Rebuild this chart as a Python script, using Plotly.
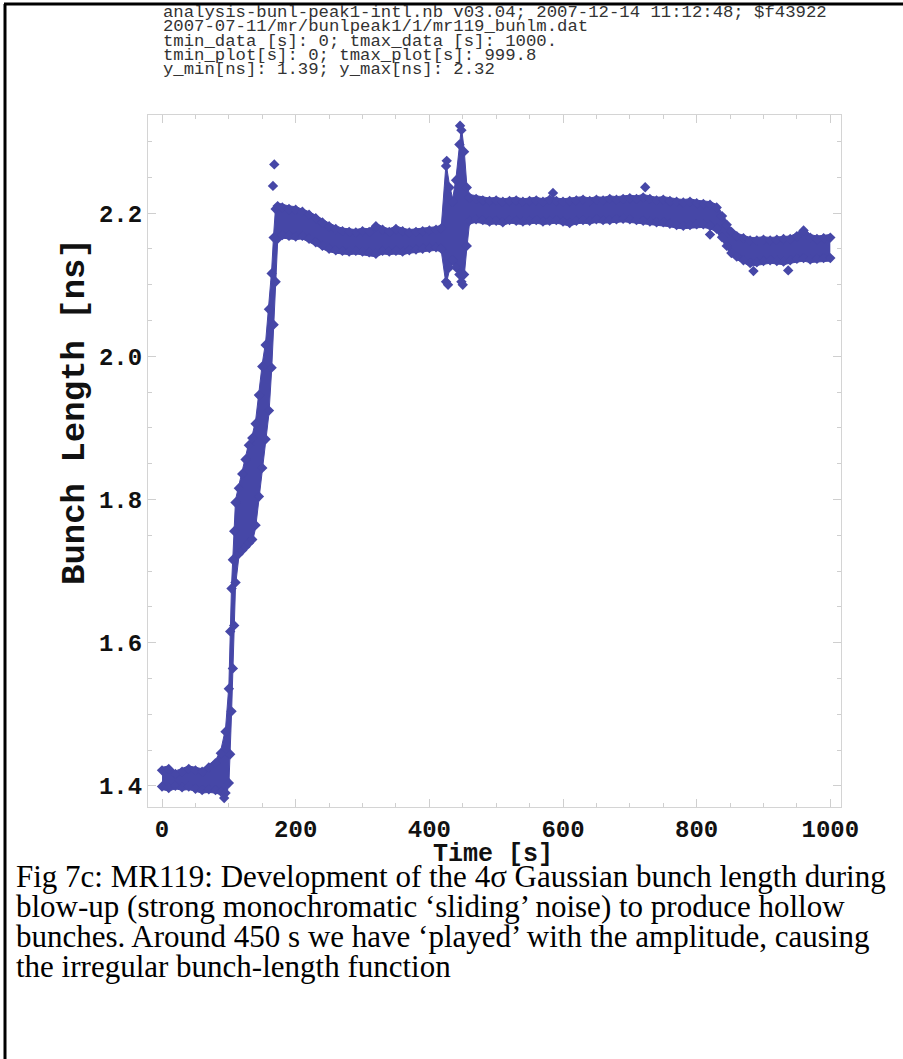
import plotly.graph_objects as go

# ---------------- data ----------------
T = [0, 10, 20, 30, 40, 50, 60, 70, 80, 88, 95, 100, 102, 104, 106, 108, 110, 115, 120, 125,
     130, 135, 140, 145, 150, 155, 160, 164, 167, 170, 173, 180, 190, 200, 210, 220, 230, 240,
     250, 260, 270, 280, 290, 300, 310, 320, 330, 340, 350, 360, 370, 380, 390, 400, 410, 418,
     425, 430, 435, 440, 445, 448, 452, 456, 460, 470, 480, 490, 500, 510, 520, 530, 540, 550,
     560, 570, 580, 590, 600, 610, 620, 630, 640, 650, 660, 670, 680, 690, 700, 710, 720, 730,
     740, 750, 760, 770, 780, 790, 800, 810, 820, 830, 838, 845, 852, 860, 870, 880, 890, 900,
     910, 920, 930, 940, 950, 960, 970, 980, 990, 1000]

LOW = [1.395, 1.393, 1.396, 1.394, 1.395, 1.392, 1.390, 1.391, 1.390, 1.388, 1.386, 1.400, 1.44,
       1.50, 1.56, 1.62, 1.68, 1.72, 1.725, 1.73,
       1.735, 1.74, 1.76, 1.80, 1.84, 1.88, 1.92, 1.98, 2.04, 2.10, 2.160, 2.165, 2.164, 2.163,
       2.164, 2.160, 2.155, 2.150,
       2.146, 2.144, 2.143, 2.142, 2.143, 2.142, 2.141, 2.139, 2.143, 2.142, 2.143, 2.142, 2.144,
       2.145, 2.146, 2.147, 2.148, 2.146,
       2.10, 2.12, 2.13, 2.12, 2.11, 2.10, 2.11, 2.15, 2.185, 2.187, 2.186, 2.184, 2.185, 2.183,
       2.186, 2.185, 2.184, 2.185,
       2.186, 2.184, 2.185, 2.186, 2.184, 2.182, 2.185, 2.186, 2.185, 2.187, 2.186, 2.186, 2.187,
       2.188, 2.187, 2.186, 2.185, 2.184,
       2.183, 2.183, 2.181, 2.179, 2.178, 2.179, 2.180, 2.180, 2.178, 2.174, 2.162, 2.150, 2.140,
       2.135, 2.130, 2.126, 2.127, 2.129,
       2.130, 2.129, 2.128, 2.130, 2.132, 2.133, 2.131, 2.132, 2.133, 2.133]

HIGH = [1.426, 1.428, 1.421, 1.424, 1.428, 1.426, 1.424, 1.430, 1.436, 1.45, 1.48, 1.54, 1.62,
        1.68, 1.72, 1.76, 1.80, 1.82, 1.84, 1.86,
        1.88, 1.89, 1.91, 1.95, 1.99, 2.02, 2.07, 2.12, 2.17, 2.21, 2.214, 2.212, 2.210, 2.209,
        2.206, 2.202, 2.197, 2.191,
        2.186, 2.182, 2.179, 2.178, 2.177, 2.179, 2.178, 2.186, 2.181, 2.178, 2.182, 2.179, 2.177,
        2.178, 2.179, 2.180, 2.181, 2.183,
        2.27, 2.24, 2.22, 2.25, 2.30, 2.32, 2.29, 2.24, 2.226, 2.224, 2.222, 2.221, 2.222, 2.220,
        2.221, 2.222, 2.220, 2.221,
        2.222, 2.220, 2.223, 2.221, 2.220, 2.221, 2.222, 2.223, 2.221, 2.223, 2.222, 2.224, 2.223,
        2.224, 2.225, 2.224, 2.226, 2.224,
        2.222, 2.223, 2.221, 2.220, 2.219, 2.220, 2.218, 2.217, 2.216, 2.212, 2.200, 2.188, 2.178,
        2.172, 2.169, 2.166, 2.166, 2.167,
        2.166, 2.167, 2.168, 2.168, 2.172, 2.180, 2.170, 2.168, 2.169, 2.170]

OUT_T = [93, 166, 168, 426, 428, 446, 450, 585, 723, 820, 885, 937]
OUT_V = [1.383, 2.238, 2.268, 2.273, 2.100, 2.322, 2.100, 2.228, 2.236, 2.170, 2.119, 2.120]

HEADER = [
    "analysis-bunl-peak1-intl.nb v03.04; 2007-12-14 11:12:48; $f43922",
    "2007-07-11/mr/bunlpeak1/1/mr119_bunlm.dat",
    "tmin_data [s]: 0; tmax_data [s]: 1000.",
    "tmin_plot[s]: 0; tmax_plot[s]: 999.8",
    "y_min[ns]: 1.39; y_max[ns]: 2.32",
]
CAPTION = [
    "Fig 7c: MR119: Development of the 4\u03c3 Gaussian bunch length during",
    "blow-up (strong monochromatic \u2018sliding\u2019 noise) to produce hollow",
    "bunches. Around 450 s we have \u2018played\u2019 with the amplitude, causing",
    "the irregular bunch-length function",
]
X_TICKS = [0, 200, 400, 600, 800, 1000]
Y_TICKS = [1.4, 1.6, 1.8, 2.0, 2.2]

# ---------------- layout geometry ----------------
W, H = 903, 1059
L, R, TOP, BOT = 148, 841, 115, 807
XR = [-21, 1016]
YR = [1.3706, 2.337]
BLUE = "rgb(70,71,167)"
MS = 8
inset = (MS / 2 - 1) * (YR[1] - YR[0]) / (BOT - TOP)


def px(x):
    return (x - L) / (R - L)


def py(y):
    return (BOT - y) / (BOT - TOP)


def block(lines, size):
    return "<br>".join(f'<span style="font-size:{size}px">{s}</span>' for s in lines)


fig = go.Figure()
# filled band
fig.add_trace(go.Scatter(x=T, y=LOW, mode="lines", line=dict(color=BLUE, width=1),
                         showlegend=False, hoverinfo="skip"))
fig.add_trace(go.Scatter(x=T, y=HIGH, mode="lines", line=dict(color=BLUE, width=1),
                         fill="tonexty", fillcolor=BLUE, showlegend=False, hoverinfo="skip"))
# diamond texture on the edges
fig.add_trace(go.Scatter(x=T, y=[v + inset for v in LOW], mode="markers",
                         marker=dict(symbol="diamond", size=MS, color=BLUE),
                         showlegend=False))
fig.add_trace(go.Scatter(x=T, y=[v - inset for v in HIGH], mode="markers",
                         marker=dict(symbol="diamond", size=MS, color=BLUE),
                         showlegend=False))
fig.add_trace(go.Scatter(x=OUT_T, y=OUT_V, mode="markers",
                         marker=dict(symbol="diamond", size=MS, color=BLUE),
                         showlegend=False))

tickfont = dict(family="Liberation Mono", size=24, color="#111111", weight="bold")
axis_common = dict(showline=True, linecolor="#d4d4d4", linewidth=1, mirror="ticks",
                   ticks="inside", ticklen=8, tickcolor="#cfcfcf", tickwidth=1,
                   showgrid=False, zeroline=False, tickfont=tickfont)
fig.update_xaxes(range=XR, tickvals=X_TICKS, ticktext=[str(v) for v in X_TICKS],
                 ticklabelstandoff=0,
                 minor=dict(ticks="inside", ticklen=4, dtick=50, tick0=0,
                            tickcolor="#cfcfcf", showgrid=False),
                 **axis_common)
fig.update_yaxes(range=YR, tickvals=Y_TICKS, ticktext=[f"{v:.1f}" for v in Y_TICKS],
                 ticklabelstandoff=0,
                 minor=dict(ticks="inside", ticklen=4, dtick=0.05, tick0=1.4,
                            tickcolor="#cfcfcf", showgrid=False),
                 **axis_common)

ann = [
    dict(x=px(161), y=py(41.5), xref="paper", yref="paper", text=block(HEADER, 17.3),
         showarrow=False, xanchor="left", yanchor="middle", align="left",
         font=dict(family="Liberation Mono", size=11, color="#333333")),
    dict(x=px(493), y=py(854), xref="paper", yref="paper", text="Time [s]",
         showarrow=False, xanchor="center", yanchor="middle",
         font=dict(family="Liberation Mono", size=25, color="#111111", weight="bold")),
    dict(x=px(75), y=py(412), xref="paper", yref="paper", text="Bunch Length [ns]",
         showarrow=False, xanchor="center", yanchor="middle", textangle=-90,
         font=dict(family="Liberation Mono", size=34, color="#111111", weight="bold")),
    dict(x=px(14), y=py(921), xref="paper", yref="paper", text=block(CAPTION, 31),
         showarrow=False, xanchor="left", yanchor="middle", align="left",
         font=dict(family="Liberation Serif", size=23, color="#000000")),
]

shapes = [
    dict(type="line", xref="paper", yref="paper", x0=px(5), y0=py(H + 2), x1=px(5), y1=py(4),
         line=dict(color="black", width=3)),
    dict(type="line", xref="paper", yref="paper", x0=px(4), y0=py(4), x1=px(W + 2), y1=py(4),
         line=dict(color="black", width=3)),
]

fig.update_layout(width=W, height=H, autosize=False,
                  margin=dict(l=L, r=W - R, t=TOP, b=H - BOT, pad=0),
                  paper_bgcolor="white", plot_bgcolor="white",
                  annotations=ann, shapes=shapes, showlegend=False)

fig.write_html("out.html")
